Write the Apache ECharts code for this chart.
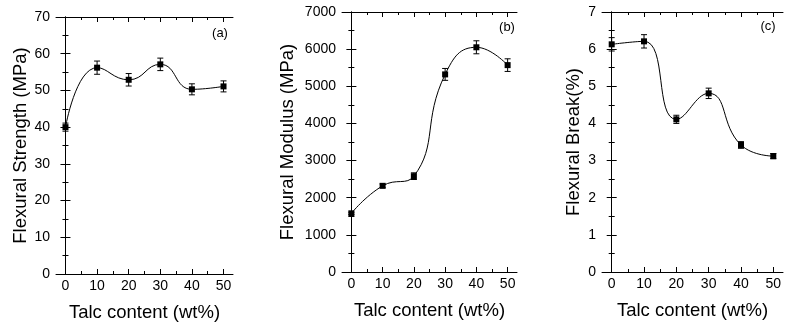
<!DOCTYPE html>
<html>
<head>
<meta charset="utf-8">
<script src="https://cdn.jsdelivr.net/npm/echarts/dist/echarts.min.js"></script>
<style>
  html, body { margin: 0; padding: 0; background: #fff; }
  #chart { width: 798px; height: 334px; }
</style>
</head>
<body>
<div id="chart"></div>
<script>
  // talc loading (wt%)
  const talc = [0, 10, 20, 30, 40, 50];
  const xTicks = [0, 10, 20, 30, 40, 50];
  const xMinorTicks = [5, 15, 25, 35, 45];

  // (a) flexural strength, MPa
  const strength = [40.0, 56.2, 52.9, 57.1, 50.3, 51.1];
  const strengthErr = [1.1, 1.8, 1.7, 1.7, 1.5, 1.5];
  // (b) flexural modulus, MPa
  const modulus = [1580, 2320, 2580, 5320, 6050, 5570];
  const modulusErr = [30, 50, 90, 160, 175, 170];
  // (c) flexural break, %
  const breakPct = [6.13, 6.21, 4.11, 4.81, 3.42, 3.12];
  const breakErr = [0.18, 0.18, 0.11, 0.14, 0.09, 0.07];

  const font = 'Liberation Sans, Arial, sans-serif';

  const panels = [
    {grid: {left: 56, top: 17, width: 177, height: 257}, y: strength, err: strengthErr,
     max: 70, step: 10, name: 'Flexural Strength (MPa)', gap: 26, tag: '(a)', tagX: 220, tagY: 33},
    {grid: {left: 342, top: 12, width: 175, height: 260}, y: modulus, err: modulusErr,
     max: 7000, step: 1000, name: 'Flexural Modulus (MPa)', gap: 45, tag: '(b)', tagX: 507, tagY: 27},
    {grid: {left: 602, top: 12, width: 181, height: 260}, y: breakPct, err: breakErr,
     max: 7, step: 1, name: 'Flexural Break(%)', gap: 19, tag: '(c)', tagX: 768, tagY: 26}
  ];

  const black = '#000';
  let grid = [], xAxis = [], yAxis = [], series = [], graphic = [];

  panels.forEach(function (p, i) {
    grid.push(p.grid);
    const base = {gridIndex: i, type: 'value', min: -3, max: 53, splitLine: {show: false}};
    // bottom axis with labels
    xAxis.push(Object.assign({}, base, {
      position: 'bottom',
      axisLine: {lineStyle: {color: black, width: 1}},
      axisTick: {inside: true, length: 5, customValues: xTicks, lineStyle: {color: black}},
      axisLabel: {customValues: xTicks, margin: 5, color: black, fontSize: 14, fontFamily: font},
      name: 'Talc content (wt%)', nameLocation: 'middle', nameGap: 29,
      nameTextStyle: {color: black, fontSize: 18.5, fontFamily: font}
    }));
    // bottom minor ticks
    xAxis.push(Object.assign({}, base, {
      position: 'bottom',
      axisLine: {show: false},
      axisTick: {inside: true, length: 3, customValues: xMinorTicks, lineStyle: {color: black}},
      axisLabel: {show: false}
    }));
    // top frame + ticks
    xAxis.push(Object.assign({}, base, {
      position: 'top',
      axisLine: {lineStyle: {color: black, width: 1}},
      axisTick: {inside: true, length: 5, customValues: xTicks, lineStyle: {color: black}},
      axisLabel: {show: false}
    }));
    xAxis.push(Object.assign({}, base, {
      position: 'top',
      axisLine: {show: false},
      axisTick: {inside: true, length: 3, customValues: xMinorTicks, lineStyle: {color: black}},
      axisLabel: {show: false}
    }));

    const ybase = {gridIndex: i, type: 'value', min: 0, max: p.max, interval: p.step,
      splitLine: {show: false}, minorSplitLine: {show: false},
      axisLine: {show: true, lineStyle: {color: black, width: 1}},
      axisTick: {show: true, inside: true, length: 5, lineStyle: {color: black}},
      minorTick: {show: true, splitNumber: 2, length: 3, lineStyle: {color: black}}};
    yAxis.push(Object.assign({}, ybase, {
      position: 'left',
      axisLabel: {margin: 6, color: black, fontSize: 14, fontFamily: font,
        formatter: function (v) { return String(v); }},
      name: p.name, nameLocation: 'middle', nameGap: p.gap,
      nameTextStyle: {color: black, fontSize: 18.5, fontFamily: font}
    }));
    yAxis.push(Object.assign({}, ybase, {
      position: 'right',
      axisLabel: {show: false}
    }));

    const pts = talc.map(function (x, k) { return [x, p.y[k]]; });
    const bars = talc.map(function (x, k) { return [x, p.y[k], p.err[k]]; });

    series.push({
      type: 'custom',
      xAxisIndex: i * 4,
      yAxisIndex: i * 2,
      data: bars,
      encode: {x: 0, y: 1},
      z: 2,
      silent: true,
      renderItem: function (params, api) {
        const x = api.value(0), v = api.value(1), e = api.value(2);
        const hi = api.coord([x, v + e]);
        const lo = api.coord([x, v - e]);
        const st = {stroke: black, lineWidth: 1};
        return {
          type: 'group',
          children: [
            {type: 'line', shape: {x1: hi[0], y1: hi[1], x2: lo[0], y2: lo[1]}, style: st},
            {type: 'line', shape: {x1: hi[0] - 3, y1: hi[1], x2: hi[0] + 3, y2: hi[1]}, style: st},
            {type: 'line', shape: {x1: lo[0] - 3, y1: lo[1], x2: lo[0] + 3, y2: lo[1]}, style: st}
          ]
        };
      }
    });
    series.push({
      type: 'line',
      xAxisIndex: i * 4,
      yAxisIndex: i * 2,
      data: pts,
      smooth: 0.5,
      symbol: 'rect',
      symbolSize: 6,
      z: 3,
      itemStyle: {color: black},
      lineStyle: {color: black, width: 1}
    });

    graphic.push({
      type: 'text',
      x: p.tagX,
      y: p.tagY,
      style: {text: p.tag, fill: black, font: '13px ' + font, textAlign: 'center', textVerticalAlign: 'middle'}
    });
  });

  const chart = echarts.init(document.getElementById('chart'));
  chart.setOption({
    backgroundColor: '#fff',
    animation: false,
    grid: grid,
    xAxis: xAxis,
    yAxis: yAxis,
    series: series,
    graphic: graphic
  });
</script>
</body>
</html>
